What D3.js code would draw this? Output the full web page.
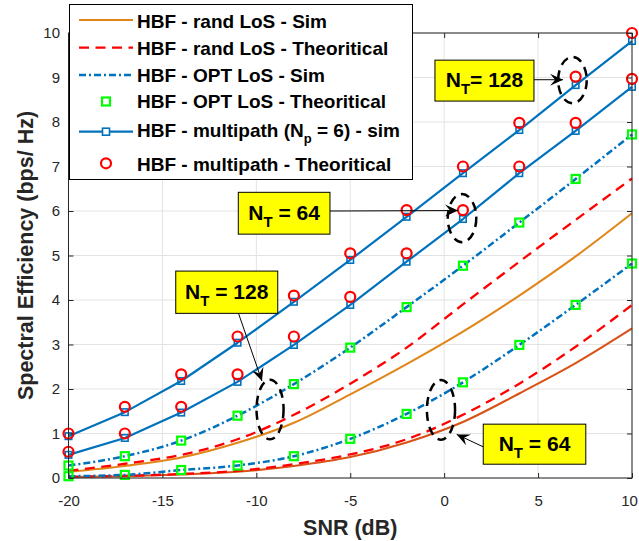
<!DOCTYPE html>
<html><head><meta charset="utf-8">
<script src="https://cdn.jsdelivr.net/npm/d3@7"></script>
<style>
body{margin:0;background:#fff}
svg{display:block;font-family:"Liberation Sans",Arial,Helvetica,sans-serif}
</style>
</head><body>
<svg id="c" width="639" height="541"></svg>
<script>
// ---------------- data ----------------
const snr = [-20, -17, -14, -11, -8, -5, -2, 1, 4, 7, 10];
const randSim128 = [0.14, 0.27, 0.46, 0.79, 1.24, 1.88, 2.56, 3.29, 4.10, 4.98, 5.95];
const randTh128  = [0.16, 0.32, 0.52, 0.87, 1.42, 2.12, 2.93, 3.90, 4.86, 5.80, 6.73];
const randSim64  = [0.02, 0.04, 0.08, 0.14, 0.27, 0.47, 0.80, 1.26, 1.90, 2.58, 3.36];
const randTh64   = [0.03, 0.05, 0.09, 0.16, 0.31, 0.53, 0.87, 1.42, 2.12, 2.95, 3.89];
const optSim128  = [0.28, 0.49, 0.84, 1.40, 2.11, 2.93, 3.84, 4.77, 5.74, 6.72, 7.72];
const optSim64   = [0.04, 0.07, 0.18, 0.28, 0.49, 0.88, 1.44, 2.15, 2.99, 3.89, 4.82];
const optTh128   = optSim128;
const optTh64    = optSim64;
const mpSim128   = [0.94, 1.48, 2.18, 3.04, 3.96, 4.90, 5.87, 6.85, 7.82, 8.83, 9.82];
const mpTh128    = [1.00, 1.60, 2.33, 3.18, 4.10, 5.05, 6.02, 7.00, 7.98, 9.02, 10.00];
const mpSim64    = [0.52, 0.90, 1.47, 2.16, 2.99, 3.89, 4.86, 5.82, 6.85, 7.80, 8.79];
const mpTh64     = [0.59, 1.00, 1.60, 2.33, 3.18, 4.07, 5.05, 6.02, 7.00, 7.98, 8.97];

const xTicks = [-20, -15, -10, -5, 0, 5, 10];
const yTicks = [0, 1, 2, 3, 4, 5, 6, 7, 8, 9, 10];
const legendLabels = [
  "HBF - rand LoS - Sim",
  "HBF - rand LoS - Theoritical",
  "HBF - OPT LoS - Sim",
  "HBF - OPT LoS - Theoritical",
  ["HBF - multipath (N", "p", " = 6) - sim"],
  "HBF - multipath - Theoritical"
];
const xLabel = "SNR (dB)";
const yLabel = "Spectral Efficiency (bps/ Hz)";

// annotations (in data units)
const annotations = [
  {main:"N", sub:"T", rest:"= 128", box:[-0.49, 4.78, 8.47, 9.39], from:[4.78, 8.95], to:[6.33, 8.95], ell:[6.83, 8.94, 0.76, 0.52]},
  {main:"N", sub:"T", rest:" = 64", box:[-10.96, -6.08, 5.48, 6.42], from:[-6.08, 6.0], to:[0.74, 6.01], ell:[0.95, 5.84, 0.76, 0.54]},
  {main:"N", sub:"T", rest:" = 128", box:[-14.29, -8.86, 3.70, 4.65], from:[-10.95, 3.70], to:[-9.70, 2.18], ell:[-9.27, 1.54, 0.72, 0.67]},
  {main:"N", sub:"T", rest:" = 64", box:[2.08, 7.54, 0.31, 1.21], from:[2.08, 0.70], to:[0.67, 0.98], ell:[-0.17, 1.53, 0.75, 0.67]}
];

// ---------------- chart ----------------
const svg = d3.select("#c");
const x = d3.scaleLinear().domain([-20, 10]).range([68.5, 632]);
const y = d3.scaleLinear().domain([0, 10]).range([478, 33]);
const AX = "#262626";

// grid
svg.append("g").selectAll("line").data(xTicks).join("line")
  .attr("x1", d => x(d)).attr("x2", d => x(d)).attr("y1", y(0)).attr("y2", y(10))
  .attr("stroke", "#e3e3e3").attr("stroke-width", 1);
svg.append("g").selectAll("line").data(yTicks).join("line")
  .attr("y1", d => y(d)).attr("y2", d => y(d)).attr("x1", x(-20)).attr("x2", x(10))
  .attr("stroke", "#e3e3e3").attr("stroke-width", 1);

// series
const BLUE = "#0072BD", ORANGE = "#E0861A", ORANGE2 = "#D95319", RED = "#FF0000", GREEN = "#00FF00";
const lineGen = (curve) => d3.line().x((d, i) => x(snr[i])).y(d => y(d)).curve(curve);

const lineSeries = [
  {data: randSim128, color: ORANGE, dash: null, w: 2.1, curve: d3.curveMonotoneX},
  {data: randSim64, color: ORANGE2, dash: null, w: 2.1, curve: d3.curveMonotoneX},
  {data: randTh128, color: RED, dash: "10,6.5", w: 2.3, curve: d3.curveMonotoneX},
  {data: randTh64, color: RED, dash: "10,6.5", w: 2.3, curve: d3.curveMonotoneX},
  {data: optSim128, color: BLUE, dash: "7,3,2,3", w: 2.5, curve: d3.curveMonotoneX},
  {data: optSim64, color: BLUE, dash: "7,3,2,3", w: 2.5, curve: d3.curveMonotoneX},
  {data: mpSim128, color: BLUE, dash: null, w: 2.2, curve: d3.curveLinear},
  {data: mpSim64, color: BLUE, dash: null, w: 2.2, curve: d3.curveLinear}
];
const gl = svg.append("g");
lineSeries.forEach(s => {
  gl.append("path").datum(s.data).attr("d", lineGen(s.curve)(s.data))
    .attr("fill", "none").attr("stroke", s.color).attr("stroke-width", s.w)
    .attr("stroke-dasharray", s.dash).attr("stroke-linejoin", "round");
});

// markers
function squares(data, color, size, sw) {
  svg.append("g").selectAll("rect").data(data).join("rect")
    .attr("x", (d, i) => x(snr[i]) - size / 2).attr("y", d => y(d) - size / 2)
    .attr("width", size).attr("height", size)
    .attr("fill", "none").attr("stroke", color).attr("stroke-width", sw);
}
function circles(data, color, r, sw) {
  svg.append("g").selectAll("circle").data(data).join("circle")
    .attr("cx", (d, i) => x(snr[i])).attr("cy", d => y(d)).attr("r", r)
    .attr("fill", "none").attr("stroke", color).attr("stroke-width", sw);
}
squares(optTh128, GREEN, 8, 2.2);
squares(optTh64, GREEN, 8, 2.2);
squares(mpSim128, BLUE, 6.5, 1.6);
squares(mpSim64, BLUE, 6.5, 1.6);
circles(mpTh128, RED, 5, 2.2);
circles(mpTh64, RED, 5, 2.2);

// axes
const fmt = d => String(d);
const gB = svg.append("g").attr("transform", `translate(0,${y(0)})`)
  .call(d3.axisBottom(x).tickValues(xTicks).tickFormat(fmt).tickSizeInner(-5).tickSizeOuter(0).tickPadding(17));
const gL = svg.append("g").attr("transform", `translate(${x(-20)},0)`)
  .call(d3.axisLeft(y).tickValues(yTicks).tickFormat(fmt).tickSizeInner(-5).tickSizeOuter(0).tickPadding(8.5));
const gT = svg.append("g").attr("transform", `translate(0,${y(10)})`)
  .call(d3.axisTop(x).tickValues(xTicks).tickFormat("").tickSizeInner(-5).tickSizeOuter(0));
const gR = svg.append("g").attr("transform", `translate(${x(10)},0)`)
  .call(d3.axisRight(y).tickValues(yTicks).tickFormat("").tickSizeInner(-5).tickSizeOuter(0));
[gB, gL, gT, gR].forEach(g => {
  g.select(".domain").remove();
  g.selectAll("line").attr("stroke", AX).attr("stroke-width", 1);
  g.selectAll("text").attr("fill", AX).style("font-size", "15px")
    .style("font-family", '"Liberation Sans",Arial,sans-serif');
});
// keep the last x tick label inside the canvas
gB.selectAll(".tick").filter(d => d === 10).select("text").attr("dx", -3);
svg.append("rect").attr("x", x(-20)).attr("y", y(10))
  .attr("width", x(10) - x(-20)).attr("height", y(0) - y(10))
  .attr("fill", "none").attr("stroke", AX).attr("stroke-width", 1);

// axis labels
svg.append("text").attr("x", (x(-20) + x(10)) / 2).attr("y", 535)
  .attr("text-anchor", "middle").attr("font-weight", "bold").attr("font-size", "21.5px")
  .attr("fill", AX).text(xLabel);
svg.append("text").attr("transform", `translate(32.5,${(y(0) + y(10)) / 2}) rotate(-90)`)
  .attr("text-anchor", "middle").attr("font-weight", "bold").attr("font-size", "21.5px")
  .attr("fill", AX).text(yLabel);

// legend
const lg = svg.append("g");
lg.append("rect").attr("x", 69.5).attr("y", 4.5).attr("width", 343).attr("height", 175)
  .attr("fill", "#fff").attr("stroke", "#000").attr("stroke-width", 1);
const rowY = [20, 47.7, 75, 101.5, 131.7, 163.3];
const baseY = [28.3, 55, 81.7, 108.3, 136.7, 170.5];
const sx1 = 79, sx2 = 133, sxm = 106;
lg.append("line").attr("x1", sx1).attr("x2", sx2).attr("y1", rowY[0]).attr("y2", rowY[0])
  .attr("stroke", ORANGE).attr("stroke-width", 2.1);
lg.append("line").attr("x1", sx1).attr("x2", sx2).attr("y1", rowY[1]).attr("y2", rowY[1])
  .attr("stroke", RED).attr("stroke-width", 2.3).attr("stroke-dasharray", "10,6.5");
lg.append("line").attr("x1", sx1).attr("x2", sx2).attr("y1", rowY[2]).attr("y2", rowY[2])
  .attr("stroke", BLUE).attr("stroke-width", 2.3).attr("stroke-dasharray", "7,3,2,3");
lg.append("rect").attr("x", sxm - 4).attr("y", rowY[3] - 4).attr("width", 8).attr("height", 8)
  .attr("fill", "none").attr("stroke", GREEN).attr("stroke-width", 2.2);
lg.append("line").attr("x1", sx1).attr("x2", sx2).attr("y1", rowY[4]).attr("y2", rowY[4])
  .attr("stroke", BLUE).attr("stroke-width", 2.2);
lg.append("rect").attr("x", sxm - 3.5).attr("y", rowY[4] - 3.5).attr("width", 7).attr("height", 7)
  .attr("fill", "#fff").attr("stroke", BLUE).attr("stroke-width", 1.6);
lg.append("circle").attr("cx", sxm).attr("cy", rowY[5]).attr("r", 5)
  .attr("fill", "none").attr("stroke", RED).attr("stroke-width", 2.2);
legendLabels.forEach((lab, i) => {
  const t = lg.append("text").attr("x", 137).attr("y", baseY[i])
    .attr("font-weight", "bold").attr("font-size", "19px").attr("fill", "#000");
  if (Array.isArray(lab)) {
    t.append("tspan").text(lab[0]);
    t.append("tspan").attr("dy", 6).attr("font-size", "13px").text(lab[1]);
    t.append("tspan").attr("dy", -6).text(lab[2]);
  } else t.text(lab);
});

// annotations
const ag = svg.append("g");
function arrowHead(x1, y1, x2, y2) {
  const dx = x2 - x1, dy = y2 - y1, L = Math.hypot(dx, dy);
  const ux = dx / L, uy = dy / L, nx = -uy, ny = ux;
  const len = 13, wd = 6, notch = 8;
  const p = [
    [x2, y2],
    [x2 - len * ux + wd * nx, y2 - len * uy + wd * ny],
    [x2 - notch * ux, y2 - notch * uy],
    [x2 - len * ux - wd * nx, y2 - len * uy - wd * ny]
  ];
  return "M" + p.map(q => q.join(",")).join("L") + "Z";
}
annotations.forEach(a => {
  const bx1 = x(a.box[0]), bx2 = x(a.box[1]), by1 = y(a.box[3]), by2 = y(a.box[2]);
  ag.append("ellipse").attr("cx", x(a.ell[0])).attr("cy", y(a.ell[1]))
    .attr("rx", x(a.ell[2]) - x(0)).attr("ry", y(0) - y(a.ell[3]))
    .attr("fill", "none").attr("stroke", "#000").attr("stroke-width", 2.5)
    .attr("stroke-dasharray", "9,6");
  const fx = x(a.from[0]), fy = y(a.from[1]), tx = x(a.to[0]), ty = y(a.to[1]);
  ag.append("line").attr("x1", fx).attr("y1", fy).attr("x2", tx).attr("y2", ty)
    .attr("stroke", "#000").attr("stroke-width", 1);
  ag.append("path").attr("d", arrowHead(fx, fy, tx, ty)).attr("fill", "#000");
  ag.append("rect").attr("x", bx1).attr("y", by1).attr("width", bx2 - bx1).attr("height", by2 - by1)
    .attr("fill", "#FFFF00").attr("stroke", "#000").attr("stroke-width", 1);
  const t = ag.append("text").attr("x", (bx1 + bx2) / 2).attr("y", (by1 + by2) / 2 + 6.5)
    .attr("text-anchor", "middle").attr("font-weight", "bold").attr("font-size", "21px").attr("fill", "#000");
  t.append("tspan").text(a.main);
  t.append("tspan").attr("dy", 7).attr("font-size", "15px").text(a.sub);
  t.append("tspan").attr("dy", -7).text(a.rest);
});
</script>
</body></html>
